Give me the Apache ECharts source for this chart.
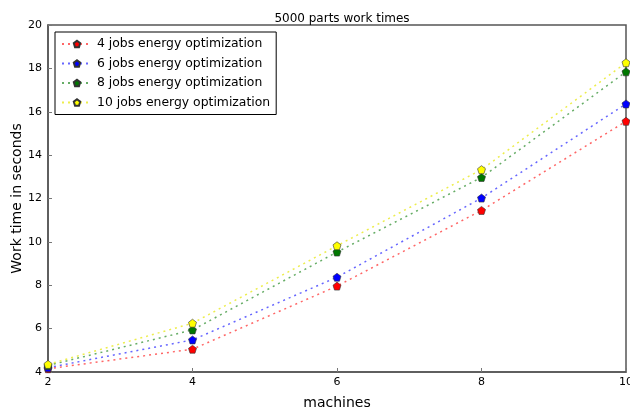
<!DOCTYPE html>
<html><head><meta charset="utf-8">
<script src="https://cdn.jsdelivr.net/npm/echarts@6/dist/echarts.min.js"></script>
<style>html,body{margin:0;padding:0;background:#fff}#c{width:630px;height:413px}</style>
</head><body><div id="c"></div>
<script>
const machines = [2, 4, 6, 8, 10];
const jobs4 = [4.15, 5.05, 7.96, 11.45, 15.56];
const jobs6 = [4.2, 5.48, 8.37, 12.02, 16.36];
const jobs8 = [4.3, 5.94, 9.53, 12.97, 17.84];
const jobs10 = [4.35, 6.25, 9.82, 13.33, 18.26];
const seriesNames = ['4 jobs energy optimization','6 jobs energy optimization','8 jobs energy optimization','10 jobs energy optimization'];
const seriesColors = ['#ff0000','#0000ff','#007700','#ffff00'];
const lineColors = ['rgba(255,0,0,0.6)','rgba(0,0,255,0.6)','rgba(0,119,0,0.6)','rgba(230,230,0,0.7)'];
const allData = [jobs4, jobs6, jobs8, jobs10];
const pent = 'path://M0,-1 L0.951,-0.309 L0.588,0.809 L-0.588,0.809 L-0.951,-0.309 Z';

const chart = echarts.init(document.getElementById('c'));
chart.setOption({
  animation: false,
  backgroundColor: '#fff',
  title: {text: '5000 parts work times', left: 337, top: 8, textAlign: 'center',
    textStyle: {fontFamily: 'DejaVu Sans', fontSize: 12, fontWeight: 'normal', color: '#000'}},
  grid: {left: 48, right: 4, top: 25, bottom: 41, containLabel: false, outerBoundsMode: 'none',
    show: true, borderColor: '#555', borderWidth: 1.5},
  legend: {
    left: 55, top: 32, orient: 'vertical', backgroundColor: '#fff', borderColor: '#000', borderWidth: 1,
    padding: [5, 6, 5, 6], itemGap: 5.5, itemWidth: 30, itemHeight: 8,
    textStyle: {fontFamily: 'DejaVu Sans', fontSize: 12.4, color: '#000', lineHeight: 14},
    data: seriesNames
  },
  xAxis: {type: 'value', min: 2, max: 10, interval: 2,
    name: 'machines', nameLocation: 'middle', nameGap: 24, nameMoveOverlap: false,
    nameTextStyle: {fontFamily: 'DejaVu Sans', fontSize: 14, color: '#000'},
    axisLine: {show: true, lineStyle: {color: '#555', width: 1.5}},
    axisTick: {show: true, inside: true, length: 4, lineStyle: {color: '#777'}},
    axisLabel: {fontFamily: 'DejaVu Sans', fontSize: 11, color: '#000', margin: 5},
    splitLine: {show: false}},
  yAxis: {type: 'value', min: 4, max: 20, interval: 2,
    name: 'Work time in seconds', nameLocation: 'middle', nameGap: 24, nameMoveOverlap: false,
    nameTextStyle: {fontFamily: 'DejaVu Sans', fontSize: 14, color: '#000'},
    axisLine: {show: true, lineStyle: {color: '#555', width: 1.5}},
    axisTick: {show: true, inside: true, length: 4, lineStyle: {color: '#777'}},
    axisLabel: {fontFamily: 'DejaVu Sans', fontSize: 11, color: '#000', margin: 6},
    splitLine: {show: false}},
  series: allData.map((d, i) => ({
    name: seriesNames[i], type: 'line',
    data: machines.map((m, j) => [m, d[j]]),
    symbol: pent, symbolSize: 8, showSymbol: true,
    itemStyle: {color: seriesColors[i], borderColor: '#333', borderWidth: 0.6},
    lineStyle: {color: lineColors[i], width: 1.5, type: [2, 4]},
    z: 2 + i
  }))
});
</script></body></html>
